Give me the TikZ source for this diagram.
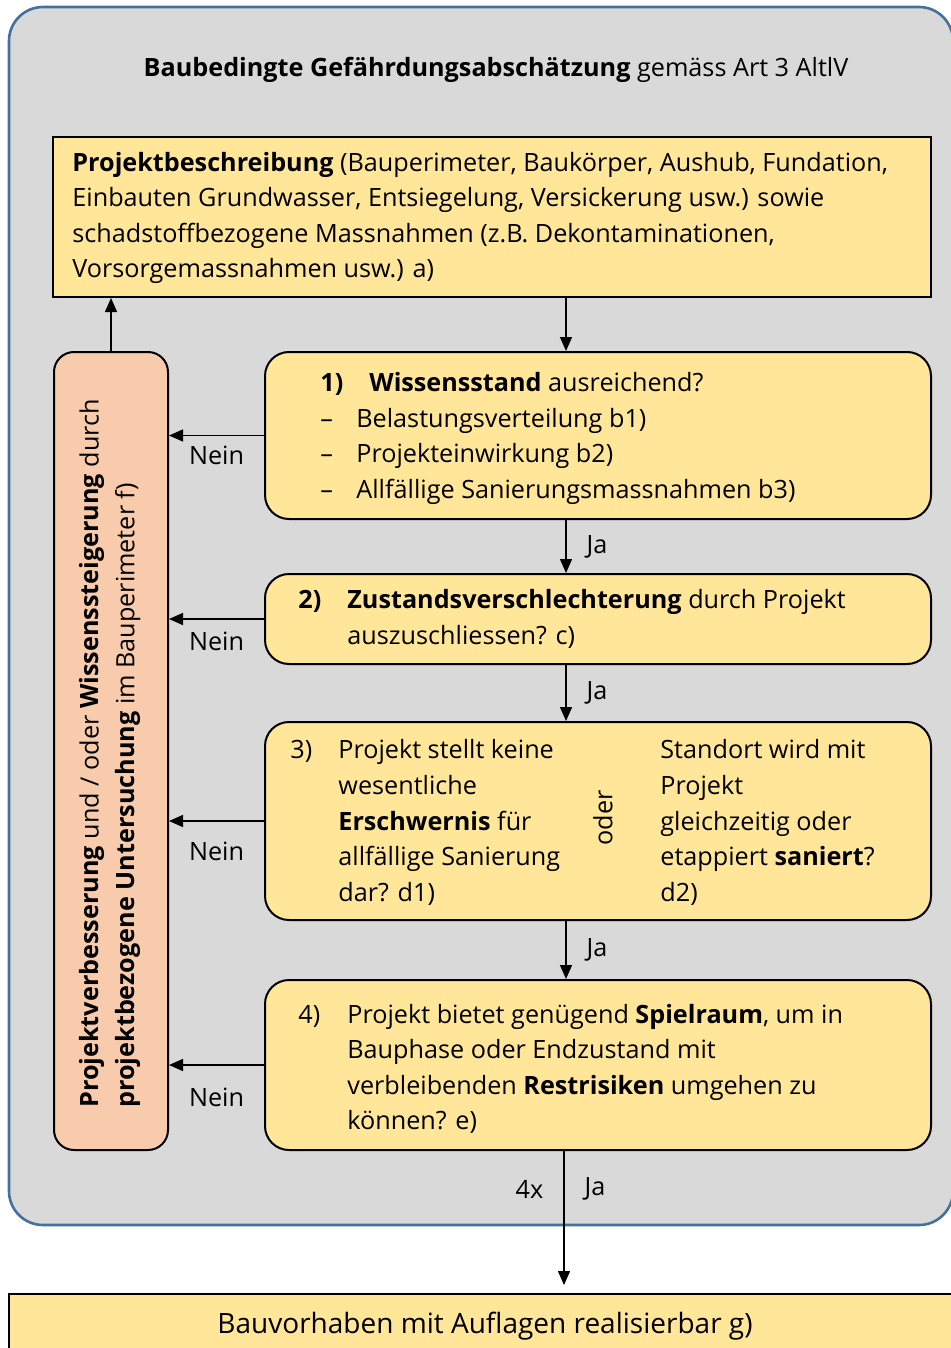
\documentclass[tikz,border=0pt]{standalone}
\usepackage{fontspec}
\setmainfont{Open Sans}
\usetikzlibrary{arrows.meta, positioning}
\definecolor{gelb}{HTML}{FFE699}
\definecolor{lachs}{HTML}{F8CBAD}
\definecolor{grau}{HTML}{D9D9D9}
\definecolor{rand}{HTML}{41719C}

\begin{document}
\begin{tikzpicture}[x=0.5pt, y=-0.5pt,
	every node/.style={font=\fontsize{12.6}{17.8}\selectfont, inner sep=0pt},
	kasten/.style={draw=black, line width=1pt, fill=gelb},
	frage/.style={kasten, rounded corners=12pt},
	txt/.style={anchor=west, align=left},
	pfeil/.style={line width=0.7pt, -{Triangle[length=7pt, width=6pt]}}]
				\useasboundingbox (0,0) rectangle (950,1348);
				% grauer Rahmen
				\draw[draw=rand, line width=1.3pt, fill=grau, rounded corners=17pt] (9,7) rectangle (953,1225);
				\node (titel) at (496,70) {\textbf{Baubedingte Gefährdungsabschätzung} gemäss Art 3 AltlV};
				
				% Kaesten
				\node[kasten, minimum width=439pt, minimum height=80pt] (projekt) at (492,217) {};
				\node[kasten, rounded corners=10pt, fill=lachs, minimum width=57pt, minimum height=399pt] (verbesserung) at (111,751) {};
				\node[frage, minimum width=333pt, minimum height=83.5pt] (wissen) at (598,435.5) {};
				\node[frage, minimum width=333pt, minimum height=45pt] (zustand) at (598,619) {};
				\node[frage, minimum width=333pt, minimum height=99pt] (erschwernis) at (598,821) {};
				\node[frage, minimum width=333pt, minimum height=85pt] (spielraum) at (598,1065) {};
				\node[kasten, minimum width=473pt, minimum height=34pt] (bauvorhaben) at (482,1328) {};
				
				% Texte
				\node[txt] (projekt-t) at (72,218) {\textbf{Projektbeschreibung} (Bauperimeter, Baukörper, Aushub, Fundation,\\
					Einbauten Grundwasser, Entsiegelung, Versickerung usw.) sowie\\
					schadstoffbezogene Massnahmen (z.B. Dekontaminationen,\\
					Vorsorgemassnahmen usw.) a)};
				\node[txt] (wissen-t) at (320,438.5) {\makebox[24.5pt][l]{\textbf{1)}}\textbf{Wissensstand} ausreichend?\\
					\makebox[18pt][l]{–}Belastungsverteilung b1)\\
					\makebox[18pt][l]{–}Projekteinwirkung b2)\\
					\makebox[18pt][l]{–}Allfällige Sanierungsmassnahmen b3)};
				\node[txt] (zustand-t) at (298,619) {\makebox[24.5pt][l]{\textbf{2)}}\textbf{Zustandsverschlechterung} durch Projekt\\
					\hspace*{24.5pt}auszuschliessen? c)};
				\node[txt] (erschwernis-t) at (290,822.5) {\makebox[24pt][l]{3)}Projekt stellt keine\\
					\hspace*{24pt}wesentliche\\
					\hspace*{24pt}\textbf{Erschwernis} für\\
					\hspace*{24pt}allfällige Sanierung\\
					\hspace*{24pt}dar? d1)};
				\node[rotate=90] (oder) at (603,818) {oder};
				\node[txt] (saniert-t) at (660,822.5) {Standort wird mit\\
					Projekt\\
					gleichzeitig oder\\
					etappiert \textbf{saniert}?\\
					d2)};
				\node[txt] (spielraum-t) at (298,1069) {\makebox[24.5pt][l]{4)}Projekt bietet genügend \textbf{Spielraum}, um in\\
					\hspace*{24.5pt}Bauphase oder Endzustand mit\\
					\hspace*{24.5pt}verbleibenden \textbf{Restrisiken} umgehen zu\\
					\hspace*{24.5pt}können? e)};
				\node[txt, rotate=90] (verbesserung-t) at (110,1108) {\textbf{Projektverbesserung} und / oder \textbf{Wissenssteigerung} durch\\
					\textbf{projektbezogene Untersuchung} im Bauperimeter f)};
				\node[font=\fontsize{14}{17.8}\selectfont] (bauvorhaben-t) at (485,1326) {Bauvorhaben mit Auflagen realisierbar g)};
				
				% Pfeile
				\coordinate (mitte) at (566,0);
				\draw[pfeil] (verbesserung.north) -- (verbesserung.north |- projekt.south);
				\draw[pfeil] (projekt.south -| mitte) -- (wissen.north -| mitte);
				\foreach \a/\b in {wissen/zustand, zustand/erschwernis, erschwernis/spielraum}
				\draw[pfeil] (\a.south -| mitte) -- (\b.north -| mitte) node[midway, right=10pt] {Ja};
				\foreach \k/\d in {wissen/5pt, zustand/6pt, erschwernis/10pt, spielraum/11pt}
				\draw[pfeil] (\k.west) -- (\k.west -| verbesserung.east) node[midway, below=\d] {Nein};
				\draw[pfeil, shorten >=4pt] (spielraum.south -| 564,0) -- (bauvorhaben.north -| 564,0)
					node[pos=0.27, left=10pt] {4x} node[pos=0.27, right=10pt] {Ja};
			\end{tikzpicture}
\end{document}
